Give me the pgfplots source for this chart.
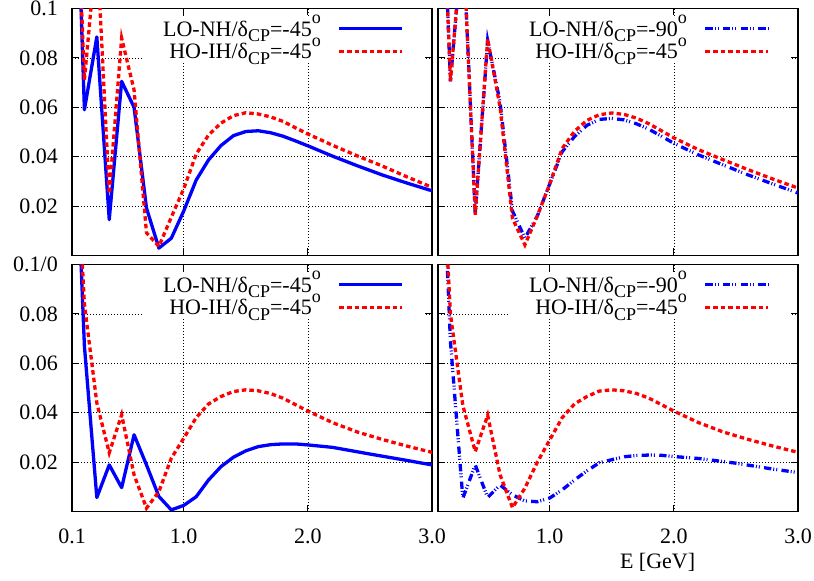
\documentclass[border=0pt]{standalone}
\usepackage{pgfplots}
\usepackage{pgfplotstable}
\pgfplotsset{compat=1.18}
\usepackage{fontspec}
\setmainfont{Liberation Serif}

\newcommand{\fs}{\fontsize{22}{26}\selectfont}
\newcommand{\lbl}[2]{#1/δ\raisebox{-0.25em}{\fontsize{18}{20}\selectfont CP}=#2\raisebox{0.56em}{\fontsize{18}{20}\selectfont o}}

\definecolor{gpblue}{RGB}{0,0,255}
\definecolor{gpred}{RGB}{255,0,0}

% top-left
\pgfplotstableread{
E P
0.1 0.21
0.2 0.059
0.3 0.0885
0.4 0.0145
0.5 0.0705
0.6 0.0600
0.7 0.0192
0.8 0.0030
0.9 0.0070
1.0 0.0180
1.1 0.0305
1.2 0.0387
1.3 0.0445
1.4 0.0485
1.5 0.0502
1.6 0.0505
1.7 0.0497
1.8 0.0483
1.9 0.0464
2.0 0.0444
2.2 0.0402
2.4 0.0363
2.6 0.0326
2.8 0.0293
3.0 0.0262
}\tlblue
\pgfplotstableread{
E P
0.1 0.20
0.2 0.071
0.3 0.126
0.4 0.025
0.5 0.088
0.6 0.067
0.7 0.0092
0.8 0.0037
0.9 0.0155
1.0 0.027
1.1 0.041
1.2 0.0488
1.3 0.0536
1.4 0.0566
1.5 0.0578
1.6 0.0573
1.7 0.0561
1.8 0.0543
1.9 0.0517
2.0 0.0492
2.2 0.0446
2.4 0.0403
2.6 0.0362
2.8 0.0318
3.0 0.0276
}\tlred
% top-right
\pgfplotstableread{
E P
0.1 0.20
0.2 0.0705
0.3 0.13
0.4 0.017
0.5 0.087
0.6 0.062
0.7 0.018
0.8 0.0070
0.9 0.016
1.0 0.029
1.1 0.042
1.2 0.0482
1.3 0.0527
1.4 0.0551
1.5 0.0555
1.6 0.0549
1.7 0.0533
1.8 0.0511
1.9 0.0483
2.0 0.0454
2.2 0.0407
2.4 0.0366
2.6 0.0326
2.8 0.0289
3.0 0.0253
}\trblue
\pgfplotstableread{
E P
0.1 0.20
0.2 0.0705
0.3 0.13
0.4 0.0165
0.5 0.0877
0.6 0.060
0.7 0.015
0.8 0.0043
0.9 0.016
1.0 0.029
1.1 0.0433
1.2 0.0503
1.3 0.0547
1.4 0.0570
1.5 0.0577
1.6 0.0571
1.7 0.0556
1.8 0.0533
1.9 0.0505
2.0 0.0476
2.2 0.0428
2.4 0.0387
2.6 0.0347
2.8 0.0309
3.0 0.0273
}\trred
% bottom-left
\pgfplotstableread{
E P
0.1 0.19
0.2 0.067
0.3 0.0057
0.4 0.0189
0.5 0.0097
0.6 0.0311
0.7 0.0189
0.8 0.0061
0.9 0.0007
1.0 0.0025
1.1 0.0060
1.2 0.0128
1.3 0.0182
1.4 0.0220
1.5 0.0246
1.6 0.0263
1.7 0.0271
1.8 0.0274
1.9 0.0274
2.0 0.0270
2.2 0.0260
2.5 0.0233
2.8 0.0207
3.0 0.0189
}\blblue
\pgfplotstableread{
E P
0.1 0.18
0.2 0.084
0.3 0.044
0.4 0.0238
0.5 0.0392
0.6 0.0149
0.7 0.0014
0.8 0.0081
0.9 0.0216
1.0 0.0297
1.1 0.0380
1.2 0.0436
1.3 0.0466
1.4 0.0486
1.5 0.0493
1.6 0.0489
1.7 0.0478
1.8 0.0459
1.9 0.0433
2.0 0.0407
2.2 0.0360
2.4 0.0322
2.6 0.0292
2.8 0.0265
3.0 0.0240
}\blred
% bottom-right
\pgfplotstableread{
E P
0.1 0.19
0.2 0.069
0.3 0.0054
0.4 0.0189
0.5 0.0057
0.6 0.0108
0.7 0.0068
0.8 0.0043
0.9 0.0040
1.0 0.0055
1.1 0.0088
1.2 0.0128
1.3 0.0165
1.4 0.0198
1.5 0.0210
1.6 0.0222
1.7 0.0227
1.8 0.0229
1.9 0.0228
2.0 0.0223
2.2 0.0215
2.5 0.0196
2.8 0.0172
3.0 0.0158
}\brblue
\pgfplotstableread{
E P
0.1 0.18
0.2 0.080
0.3 0.043
0.4 0.0243
0.5 0.0390
0.6 0.0149
0.7 0.0016
0.8 0.0095
0.9 0.0200
1.0 0.0290
1.1 0.0380
1.2 0.0436
1.3 0.0466
1.4 0.0488
1.5 0.0493
1.6 0.0489
1.7 0.0478
1.8 0.0459
1.9 0.0433
2.0 0.0407
2.2 0.0360
2.4 0.0322
2.6 0.0292
2.8 0.0265
3.0 0.0240
}\brred

\pgfplotsset{
  panel/.style={
    scale only axis, width=360pt, height=247pt, anchor=south west,
    xmin=0.1, xmax=3.0, ymin=0, ymax=0.1,
    xtick={0.1,1,2,3}, ytick={0,0.02,0.04,0.06,0.08,0.1},
    xticklabels={}, yticklabels={},
    tick align=inside, major tick length=7pt,
    grid=major,
    grid style={black, line width=0.7pt, dash pattern=on 0.8pt off 2.2pt},
    axis line style={black, line width=1.2pt},
    tick style={black, line width=1pt},
    tick label style={font=\fs},
    yticklabel style={anchor=east, inner sep=0pt, xshift=-14pt},
    xticklabel style={anchor=north, inner sep=0pt, yshift=-16.7pt},
    legend cell align=right, legend plot pos=right,
    legend image code/.code={\draw[#1] (0pt,0pt) -- (63pt,0pt);},
    legend style={draw=none, fill=white, font=\fs,
      at={(rel axis cs:1,1)}, anchor=north east, xshift=-8pt, yshift=-8pt,
      inner xsep=19.7pt, inner ysep=1pt, row sep=0.7pt,
      nodes={inner sep=0pt, text height=18.5pt, text depth=3.5pt},
      /tikz/every odd column/.append style={column sep=17pt}},
  },
  bsolid/.style={gpblue, line width=3.3pt, solid, line join=round},
  rdash/.style={gpred, line width=3.3pt, dash pattern=on 4.5pt off 3.1pt},
  bddot/.style={gpblue, line width=3.3pt, dash pattern=on 7.3pt off 2pt on 1pt off 2pt on 1pt off 4.3pt},
}

\begin{document}
\begin{tikzpicture}
% top-left
\begin{axis}[panel, at={(72pt,325.5pt)},
  yticklabels={,0.02,0.04,0.06,0.08,0.1}]
\addplot[bsolid] table[x=E,y=P] {\tlblue};
\addlegendentry{\lbl{LO-NH}{-45}}
\addplot[rdash] table[x=E,y=P] {\tlred};
\addlegendentry{\lbl{HO-IH}{-45}}
\end{axis}
% top-right
\begin{axis}[panel, at={(438pt,325.5pt)}]
\addplot[bddot] table[x=E,y=P] {\trblue};
\addlegendentry{\lbl{LO-NH}{-90}}
\addplot[rdash] table[x=E,y=P] {\trred};
\addlegendentry{\lbl{HO-IH}{-45}}
\end{axis}
% bottom-left
\begin{axis}[panel, at={(72pt,69.4pt)},
  yticklabels={,0.02,0.04,0.06,0.08,0.1/0},
  xticklabels={0.1,1.0,2.0,3.0}]
\addplot[bsolid] table[x=E,y=P] {\blblue};
\addlegendentry{\lbl{LO-NH}{-45}}
\addplot[rdash] table[x=E,y=P] {\blred};
\addlegendentry{\lbl{HO-IH}{-45}}
\end{axis}
% bottom-right
\begin{axis}[panel, at={(438pt,69.4pt)},
  xticklabels={,1.0,2.0,3.0},
  xlabel={E [GeV]},
  xlabel style={at={(axis description cs:0.61,0)}, anchor=north, yshift=-41.4pt, inner sep=0pt, font=\fs}]
\addplot[bddot] table[x=E,y=P] {\brblue};
\addlegendentry{\lbl{LO-NH}{-90}}
\addplot[rdash] table[x=E,y=P] {\brred};
\addlegendentry{\lbl{HO-IH}{-45}}
\end{axis}
\pgfresetboundingbox
\path[use as bounding box] (0,0) rectangle (814pt,581pt);
\end{tikzpicture}
\end{document}
